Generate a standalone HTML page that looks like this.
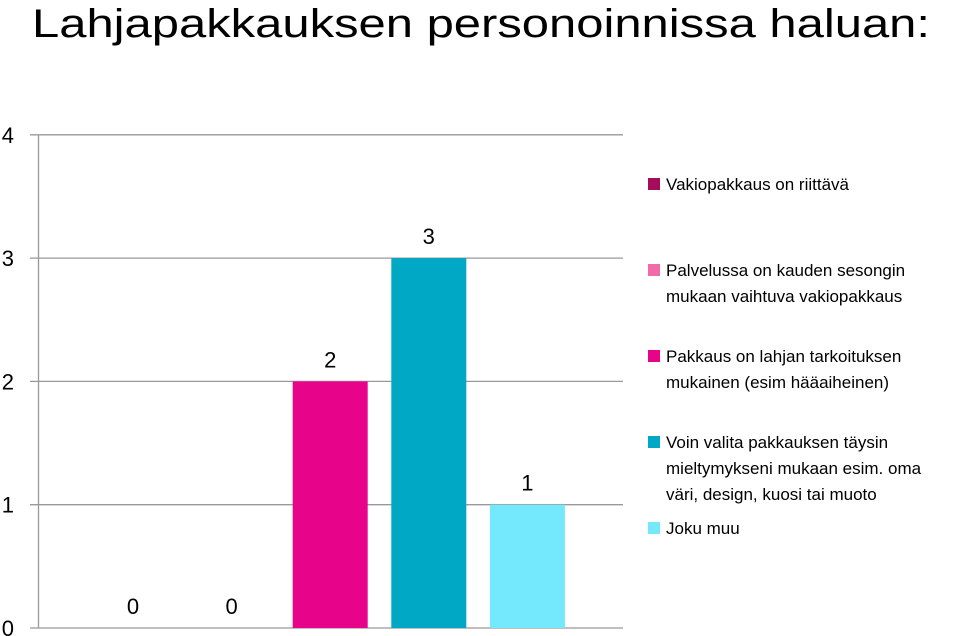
<!DOCTYPE html>
<html><head><meta charset="utf-8"><style>
body{margin:0;background:#fff;width:960px;height:636px;overflow:hidden;font-family:"Liberation Sans",sans-serif}
svg{display:block}
</style></head><body>
<svg width="960" height="636">
<text x="32" y="37" font-size="40" fill="#000" textLength="898" lengthAdjust="spacingAndGlyphs">Lahjapakkauksen personoinnissa haluan:</text>
<g id="grid"></g><g id="bars"></g><g id="legend"></g>
</svg>
<script>
const series=["Vakiopakkaus on riittävä","Palvelussa on kauden sesongin|mukaan vaihtuva vakiopakkaus","Pakkaus on lahjan tarkoituksen|mukainen (esim hääaiheinen)","Voin valita pakkauksen täysin|mieltymykseni mukaan esim. oma|väri, design, kuosi tai muoto","Joku muu"];
const values=[0,0,2,3,1];
const colors=["#A50D5A","#F06BA8","#E8048A","#00A8C6","#74E8FC"];
const ticks=[0,1,2,3,4];
const NS="http://www.w3.org/2000/svg";
const y=v=>628-v*123.3;
const xc=i=>133+i*98.6;
function mk(t,a,p){const e=document.createElementNS(NS,t);for(const k in a)e.setAttribute(k,a[k]);p.appendChild(e);return e;}
const g=document.getElementById('grid');
ticks.forEach(t=>{
 const l=mk('line',{x1:30,x2:623,y1:y(t),y2:y(t),stroke:'#999','stroke-width':1.3},g);
 
 
 const tx=mk('text',{x:14,y:y(t)+8,'font-size':22,'text-anchor':'end',fill:'#000'},g);
 tx.textContent=t;
 
 
});
const ax=mk('line',{x1:38.5,x2:38.5,y1:y(4),y2:y(0),stroke:'#999','stroke-width':1.3},g);


const b=document.getElementById('bars');
values.forEach((v,i)=>{
 const r=mk('rect',{x:xc(i)-37.5,y:y(v),width:75,height:y(0)-y(v),fill:colors[i]},b);
 
 
 const t=mk('text',{x:xc(i),y:y(v)-14,'font-size':22,'text-anchor':'middle',fill:'#000'},b);
 t.textContent=v;
 
 
});
const lg=document.getElementById('legend');
const ly=[184,270,356,442,528];
series.forEach((s,i)=>{
 const r=mk('rect',{x:648,y:ly[i]-6,width:12,height:12,fill:colors[i]},lg);
 
 
 s.split('|').forEach((line,j)=>{
  const t=mk('text',{x:666,y:ly[i]+6+j*26,'font-size':17,fill:'#000'},lg);
  t.textContent=line;
  
  
 });
});
</script>
</body></html>
